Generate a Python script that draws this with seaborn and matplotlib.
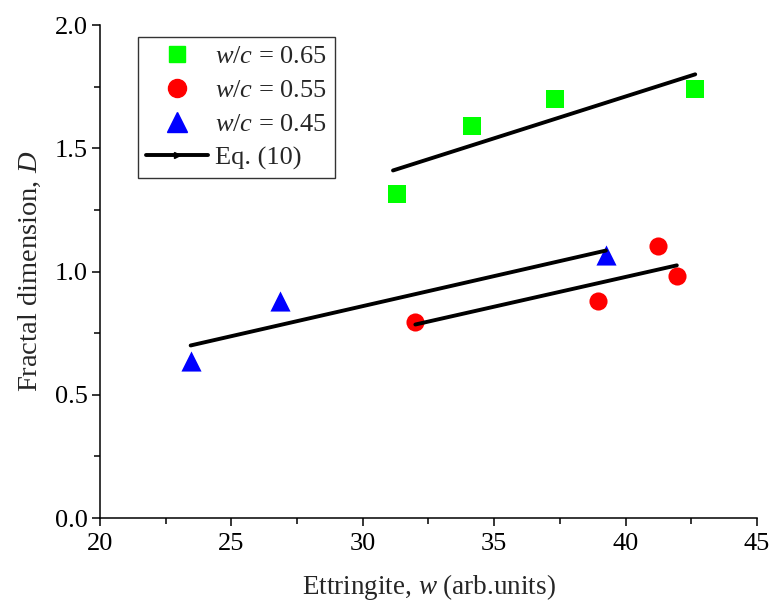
import matplotlib
matplotlib.use("Agg")
import matplotlib.pyplot as plt
import seaborn as sns
import pandas as pd
from matplotlib.lines import Line2D
from matplotlib.ticker import MultipleLocator

# Data
x_065 = [31.3, 34.15, 37.3, 42.65]
y_065 = [1.315, 1.59, 1.70, 1.74]
x_055 = [32.0, 38.95, 41.25, 41.95]
y_055 = [0.795, 0.88, 1.105, 0.98]
x_045 = [23.45, 26.85, 39.25]
y_045 = [0.635, 0.88, 1.065]

fit_x_065 = [31.15, 42.65]
fit_y_065 = [1.41, 1.80]
fit_x_055 = [32.0, 41.95]
fit_y_055 = [0.785, 1.025]
fit_x_045 = [23.45, 39.25]
fit_y_045 = [0.70, 1.085]

labels = ["$w/c$ = 0.65", "$w/c$ = 0.55", "$w/c$ = 0.45", "Eq. (10)"]

sns.set_theme(style="ticks")
plt.rcParams['font.family'] = ['Liberation Serif', 'DejaVu Serif']
plt.rcParams['mathtext.fontset'] = 'custom'
plt.rcParams['mathtext.rm'] = 'Liberation Serif'
plt.rcParams['mathtext.it'] = 'Liberation Serif:italic'

fig = plt.figure(figsize=(7.71, 6.06), dpi=100)
ax = fig.add_axes([0.1297, 0.1452, 0.8521, 0.8135])

for fx, fy in [(fit_x_065, fit_y_065), (fit_x_055, fit_y_055), (fit_x_045, fit_y_045)]:
    sns.lineplot(x=fx, y=fy, ax=ax, color="black", linewidth=2.8, zorder=3,
                 solid_capstyle="round")

sns.scatterplot(x=x_065, y=y_065, ax=ax, marker="s", color="#00ff00", s=150,
                linewidth=0, zorder=2)
sns.scatterplot(x=x_055, y=y_055, ax=ax, marker="o", color="#ff0000", s=170,
                linewidth=0, zorder=2)
sns.scatterplot(x=x_045, y=y_045, ax=ax, marker="^", color="#0000ff", s=210,
                linewidth=0, zorder=2)

ax.set_xlim(20, 45)
ax.set_ylim(0, 2.0)
ax.xaxis.set_major_locator(MultipleLocator(5))
ax.xaxis.set_minor_locator(MultipleLocator(2.5))
ax.yaxis.set_major_locator(MultipleLocator(0.5))
ax.yaxis.set_minor_locator(MultipleLocator(0.25))
ax.set_xticklabels([f"{v:g}" for v in ax.get_xticks()])
ax.set_yticklabels([f"{v:.1f}" for v in ax.get_yticks()])

for s in ["top", "right"]:
    ax.spines[s].set_visible(False)
for s in ["left", "bottom"]:
    ax.spines[s].set_linewidth(1.1)
    ax.spines[s].set_color("black")

ax.tick_params(which="major", direction="out", length=6, width=1.1, labelsize=19,
               colors="black", pad=3)
ax.tick_params(axis="x", which="major", pad=5)
ax.tick_params(which="minor", direction="out", length=4, width=1.1, colors="black")

ax.set_xlabel("Ettringite, $w$ (arb.units)", fontsize=19.5, labelpad=12)
ax.set_ylabel("Fractal dimension, $D$", fontsize=20.5, labelpad=8)

handles = [
    Line2D([], [], linestyle="none", marker="s", color="#00ff00", markersize=12),
    Line2D([], [], linestyle="none", marker="o", color="#ff0000", markersize=13),
    Line2D([], [], linestyle="none", marker="^", color="#0000ff", markersize=14),
    Line2D([], [], linestyle="-", color="black", linewidth=2.8, marker=">", markersize=4),
]
leg = ax.legend(handles, labels, loc="upper left", bbox_to_anchor=(0.058, 0.9757),
                borderaxespad=0, fontsize=19, frameon=True, fancybox=False,
                edgecolor="black", borderpad=0.3, labelspacing=0.39,
                handlelength=2.35, handletextpad=0.27, numpoints=1)
leg.get_frame().set_linewidth(1.0)

fig.savefig("out.png", dpi=100)
